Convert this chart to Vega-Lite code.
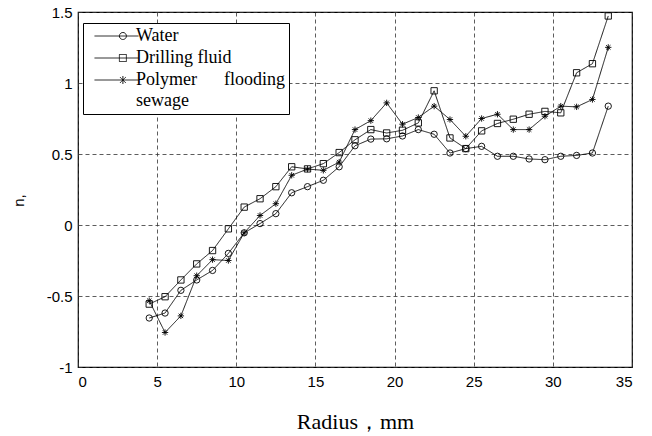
{
  "$schema": "https://vega.github.io/schema/vega-lite/v6.json",
  "width": 554,
  "height": 355,
  "autosize": {"type": "none"},
  "padding": {"left": 78, "top": 12, "right": 20, "bottom": 69},
  "background": "white",
  "config": {
    "view": {"stroke": "black", "strokeWidth": 1.2},
    "style": {"guide-label": {"lineHeight": 21}},
    "axis": {
      "domain": false,
      "ticks": false,
      "grid": true,
      "gridColor": "#333333",
      "gridDash": [4, 3],
      "gridWidth": 0.8,
      "labelFont": "Liberation Sans",
      "labelFontSize": 15,
      "labelColor": "black",
      "titleColor": "black",
      "titleFontWeight": "normal"
    }
  },
  "data": {
    "values": [
      {"r": 4.5, "n": -0.655, "s": "Water"},
      {"r": 5.5, "n": -0.62, "s": "Water"},
      {"r": 6.5, "n": -0.46, "s": "Water"},
      {"r": 7.5, "n": -0.387, "s": "Water"},
      {"r": 8.5, "n": -0.32, "s": "Water"},
      {"r": 9.5, "n": -0.2, "s": "Water"},
      {"r": 10.5, "n": -0.055, "s": "Water"},
      {"r": 11.5, "n": 0.01, "s": "Water"},
      {"r": 12.5, "n": 0.08, "s": "Water"},
      {"r": 13.5, "n": 0.227, "s": "Water"},
      {"r": 14.5, "n": 0.27, "s": "Water"},
      {"r": 15.5, "n": 0.315, "s": "Water"},
      {"r": 16.5, "n": 0.41, "s": "Water"},
      {"r": 17.5, "n": 0.558, "s": "Water"},
      {"r": 18.5, "n": 0.605, "s": "Water"},
      {"r": 19.5, "n": 0.607, "s": "Water"},
      {"r": 20.5, "n": 0.627, "s": "Water"},
      {"r": 21.5, "n": 0.672, "s": "Water"},
      {"r": 22.5, "n": 0.639, "s": "Water"},
      {"r": 23.5, "n": 0.507, "s": "Water"},
      {"r": 24.5, "n": 0.538, "s": "Water"},
      {"r": 25.5, "n": 0.554, "s": "Water"},
      {"r": 26.5, "n": 0.484, "s": "Water"},
      {"r": 27.5, "n": 0.484, "s": "Water"},
      {"r": 28.5, "n": 0.465, "s": "Water"},
      {"r": 29.5, "n": 0.46, "s": "Water"},
      {"r": 30.5, "n": 0.484, "s": "Water"},
      {"r": 31.5, "n": 0.49, "s": "Water"},
      {"r": 32.5, "n": 0.507, "s": "Water"},
      {"r": 33.5, "n": 0.837, "s": "Water"},
      {"r": 4.5, "n": -0.557, "s": "Drilling fluid"},
      {"r": 5.5, "n": -0.505, "s": "Drilling fluid"},
      {"r": 6.5, "n": -0.387, "s": "Drilling fluid"},
      {"r": 7.5, "n": -0.274, "s": "Drilling fluid"},
      {"r": 8.5, "n": -0.18, "s": "Drilling fluid"},
      {"r": 9.5, "n": -0.027, "s": "Drilling fluid"},
      {"r": 10.5, "n": 0.126, "s": "Drilling fluid"},
      {"r": 11.5, "n": 0.185, "s": "Drilling fluid"},
      {"r": 12.5, "n": 0.27, "s": "Drilling fluid"},
      {"r": 13.5, "n": 0.41, "s": "Drilling fluid"},
      {"r": 14.5, "n": 0.395, "s": "Drilling fluid"},
      {"r": 15.5, "n": 0.432, "s": "Drilling fluid"},
      {"r": 16.5, "n": 0.51, "s": "Drilling fluid"},
      {"r": 17.5, "n": 0.6, "s": "Drilling fluid"},
      {"r": 18.5, "n": 0.672, "s": "Drilling fluid"},
      {"r": 19.5, "n": 0.648, "s": "Drilling fluid"},
      {"r": 20.5, "n": 0.667, "s": "Drilling fluid"},
      {"r": 21.5, "n": 0.719, "s": "Drilling fluid"},
      {"r": 22.5, "n": 0.945, "s": "Drilling fluid"},
      {"r": 23.5, "n": 0.613, "s": "Drilling fluid"},
      {"r": 24.5, "n": 0.538, "s": "Drilling fluid"},
      {"r": 25.5, "n": 0.663, "s": "Drilling fluid"},
      {"r": 26.5, "n": 0.715, "s": "Drilling fluid"},
      {"r": 27.5, "n": 0.745, "s": "Drilling fluid"},
      {"r": 28.5, "n": 0.78, "s": "Drilling fluid"},
      {"r": 29.5, "n": 0.8, "s": "Drilling fluid"},
      {"r": 30.5, "n": 0.79, "s": "Drilling fluid"},
      {"r": 31.5, "n": 1.072, "s": "Drilling fluid"},
      {"r": 32.5, "n": 1.136, "s": "Drilling fluid"},
      {"r": 33.5, "n": 1.472, "s": "Drilling fluid"},
      {"r": 4.5, "n": -0.533, "s": "Polymer flooding sewage"},
      {"r": 5.5, "n": -0.757, "s": "Polymer flooding sewage"},
      {"r": 6.5, "n": -0.64, "s": "Polymer flooding sewage"},
      {"r": 7.5, "n": -0.357, "s": "Polymer flooding sewage"},
      {"r": 8.5, "n": -0.244, "s": "Polymer flooding sewage"},
      {"r": 9.5, "n": -0.25, "s": "Polymer flooding sewage"},
      {"r": 10.5, "n": -0.055, "s": "Polymer flooding sewage"},
      {"r": 11.5, "n": 0.067, "s": "Polymer flooding sewage"},
      {"r": 12.5, "n": 0.15, "s": "Polymer flooding sewage"},
      {"r": 13.5, "n": 0.35, "s": "Polymer flooding sewage"},
      {"r": 14.5, "n": 0.394, "s": "Polymer flooding sewage"},
      {"r": 15.5, "n": 0.385, "s": "Polymer flooding sewage"},
      {"r": 16.5, "n": 0.443, "s": "Polymer flooding sewage"},
      {"r": 17.5, "n": 0.672, "s": "Polymer flooding sewage"},
      {"r": 18.5, "n": 0.735, "s": "Polymer flooding sewage"},
      {"r": 19.5, "n": 0.86, "s": "Polymer flooding sewage"},
      {"r": 20.5, "n": 0.71, "s": "Polymer flooding sewage"},
      {"r": 21.5, "n": 0.757, "s": "Polymer flooding sewage"},
      {"r": 22.5, "n": 0.837, "s": "Polymer flooding sewage"},
      {"r": 23.5, "n": 0.743, "s": "Polymer flooding sewage"},
      {"r": 24.5, "n": 0.625, "s": "Polymer flooding sewage"},
      {"r": 25.5, "n": 0.75, "s": "Polymer flooding sewage"},
      {"r": 26.5, "n": 0.78, "s": "Polymer flooding sewage"},
      {"r": 27.5, "n": 0.672, "s": "Polymer flooding sewage"},
      {"r": 28.5, "n": 0.672, "s": "Polymer flooding sewage"},
      {"r": 29.5, "n": 0.766, "s": "Polymer flooding sewage"},
      {"r": 30.5, "n": 0.837, "s": "Polymer flooding sewage"},
      {"r": 31.5, "n": 0.832, "s": "Polymer flooding sewage"},
      {"r": 32.5, "n": 0.884, "s": "Polymer flooding sewage"},
      {"r": 33.5, "n": 1.251, "s": "Polymer flooding sewage"}
    ]
  },
  "encoding": {
    "x": {
      "field": "r",
      "type": "quantitative",
      "scale": {"domain": [0, 35], "nice": false, "zero": false},
      "axis": {
        "values": [0, 5, 10, 15, 20, 25, 30, 35],
        "labelPadding": 7,
        "title": "Radius，mm",
        "titleFont": "Liberation Serif",
        "titleFontSize": 22,
        "titleBaseline": "middle",
        "titleY": 54
      }
    },
    "y": {
      "field": "n",
      "type": "quantitative",
      "scale": {"domain": [-1, 1.5], "nice": false, "zero": false},
      "axis": {
        "values": [-1, -0.5, 0, 0.5, 1, 1.5],
        "labelPadding": 6,
        "labelExpr": "datum.value + ''",
        "title": "n,",
        "titleFont": "Liberation Sans",
        "titleFontSize": 15,
        "titleX": -52,
        "titleY": 188
      }
    }
  },
  "layer": [
    {
      "mark": {"type": "line", "color": "black", "strokeWidth": 0.9},
      "encoding": {
        "strokeDash": {
          "field": "s",
          "type": "nominal",
          "scale": {
            "domain": ["Water", "Drilling fluid", "Polymer flooding sewage"],
            "range": [[1, 0], [1, 0], [1, 0]]
          },
          "legend": {
            "title": null,
            "orient": "none",
            "legendX": 5,
            "legendY": 11,
            "padding": 4,
            "strokeColor": "black",
            "fillColor": "white",
            "labelFont": "Liberation Serif",
            "labelFontSize": 18,
            "labelColor": "black",
            "labelLimit": 300,
            "labelOffset": 31,
            "symbolOffset": 0,
            "symbolSize": 100,
            "symbolStrokeColor": "black",
            "symbolStrokeWidth": 0.9,
            "symbolFillColor": "transparent",
            "symbolType": {"expr": "datum.value == 'Water' ? 'M-0.3,0H8.5M4.68,0A0.7,0.7,0,1,0,6.08,0A0.7,0.7,0,1,0,4.68,0' : datum.value == 'Drilling fluid' ? 'M-0.3,0H8.5M4.68,-0.7H6.08V0.7H4.68Z' : 'M-0.3,0H8.5M5.38,-0.8V0.8M4.78,-0.6L5.98,0.6M4.78,0.6L5.98,-0.6'"},
            "rowPadding": 4,
            "labelExpr": "datum.label == 'Polymer flooding sewage' ? ['Polymer\u00a0\u00a0\u00a0\u00a0\u00a0\u00a0flooding', 'sewage'] : datum.label",
            "encode": {
              "labels": {"lineHeight": {"value": 21}}
            }
          }
        }
      }
    },
    {
      "mark": {"type": "point", "filled": false, "color": "black", "size": 40, "strokeWidth": 0.9, "opacity": 1},
      "encoding": {
        "shape": {
          "field": "s",
          "type": "nominal",
          "scale": {
            "domain": ["Drilling fluid", "Water", "Polymer flooding sewage"],
            "range": ["square", "circle", "M-1,0H1M0,-1V1M-0.7,-0.7L0.7,0.7M-0.7,0.7L0.7,-0.7"]
          },
          "legend": null
        }
      }
    }
  ]
}
